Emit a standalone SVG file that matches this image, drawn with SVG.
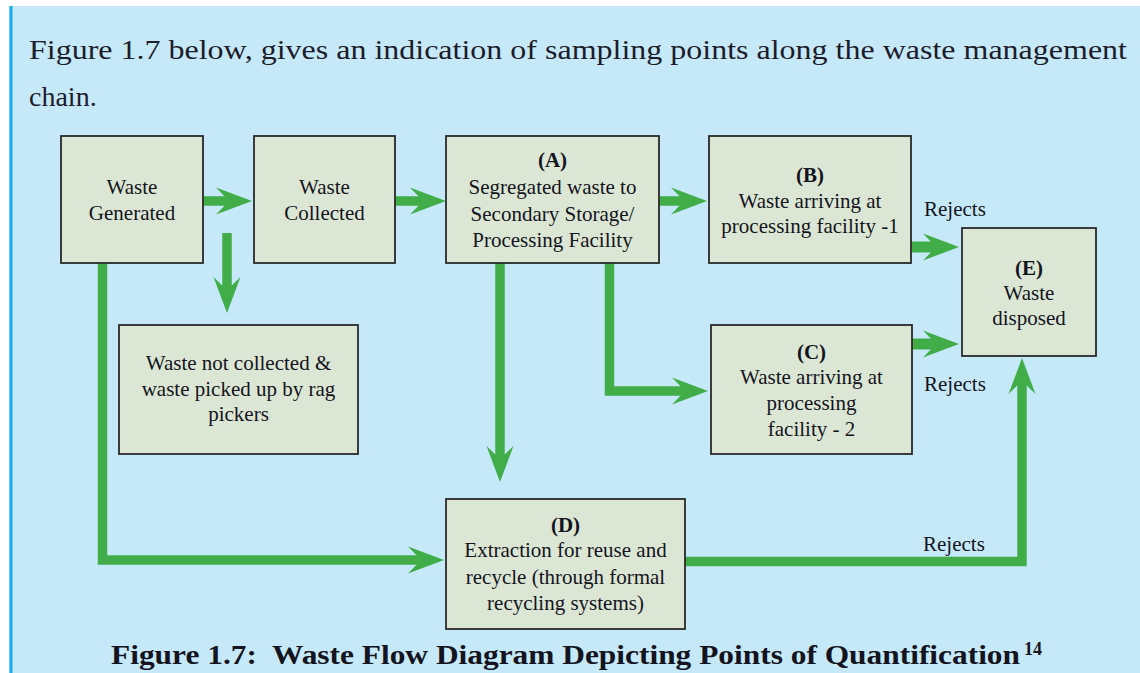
<svg xmlns="http://www.w3.org/2000/svg" width="1140" height="673" viewBox="0 0 1140 673">
  <style>
    .box { fill: #dbe7d4; stroke: #2a2a2a; stroke-width: 1.8; }
    .lbl { font-family: "Liberation Serif", "Times New Roman", serif; font-size: 21px; fill: #141420; text-anchor: middle; }
    .tag { font-weight: bold; }
    .note { font-family: "Liberation Serif", "Times New Roman", serif; font-size: 21px; fill: #141420; }
    .flow { fill: none; stroke: #41ad49; stroke-width: 9.5; stroke-linejoin: miter; stroke-linecap: butt; marker-end: url(#head); }
    .flow.wide { stroke-width: 11; }
    .body { font-family: "Liberation Serif", "Times New Roman", serif; font-size: 28px; fill: #1c1c2a; }
    .cap { font-family: "Liberation Serif", "Times New Roman", serif; font-size: 28px; font-weight: bold; fill: #141420; }
    .sup { font-family: "Liberation Serif", "Times New Roman", serif; font-size: 18px; font-weight: bold; fill: #141420; }
  </style>
  <defs>
    <!-- barbed arrowhead; reference point sits in the notch so the shaft tucks inside -->
    <marker id="head" markerUnits="userSpaceOnUse" markerWidth="40" markerHeight="30" refX="13" refY="15" orient="auto" overflow="visible">
      <path d="M0,1.5 L36,15 L0,28.5 L13,15 Z" fill="#41ad49"/>
    </marker>
  </defs>

  <!-- page background -->
  <rect x="0" y="0" width="1140" height="673" fill="#ffffff"/>
  <rect x="9" y="6" width="1131" height="667" fill="#c6e9f9"/>
  <rect x="9.5" y="6" width="3" height="667" fill="#1aaef0"/>

  <!-- introductory sentence -->
  <text class="body" x="29" y="59" textLength="1098" lengthAdjust="spacingAndGlyphs">Figure 1.7 below, gives an indication of sampling points along the waste management</text>
  <text class="body" x="29" y="106">chain.</text>

  <!-- connectors -->
  <g id="connectors">
    <path class="flow" d="M203,201 H229"/>
    <path class="flow" d="M395,201 H423"/>
    <path class="flow" d="M659,201 H684"/>
    <path class="flow" d="M227,233 V290"/>
    <path class="flow" d="M102.5,263 V560 H421"/>
    <path class="flow" d="M500,263 V459"/>
    <path class="flow" d="M609.5,263 V391 H685"/>
    <path class="flow wide" d="M911,247 H936"/>
    <path class="flow wide" d="M912,344 H936"/>
    <path class="flow" d="M685,561.5 H1022 V381"/>
    <text class="note" x="924" y="216">Rejects</text>
    <text class="note" x="924" y="391">Rejects</text>
    <text class="note" x="923" y="551">Rejects</text>
  </g>

  <!-- nodes -->
  <g id="waste-generated">
    <rect class="box" x="61" y="136" width="142" height="127"/>
    <text class="lbl" x="132" y="194">Waste</text>
    <text class="lbl" x="132" y="220">Generated</text>
  </g>
  <g id="waste-collected">
    <rect class="box" x="254" y="136" width="141" height="127"/>
    <text class="lbl" x="324.5" y="194">Waste</text>
    <text class="lbl" x="324.5" y="220">Collected</text>
  </g>
  <g id="node-a">
    <rect class="box" x="446" y="136" width="213" height="127"/>
    <text class="lbl tag" x="552.5" y="167">(A)</text>
    <text class="lbl" x="552.5" y="194">Segregated waste to</text>
    <text class="lbl" x="552.5" y="220.5">Secondary Storage/</text>
    <text class="lbl" x="552.5" y="247">Processing Facility</text>
  </g>
  <g id="node-b">
    <rect class="box" x="709" y="136" width="202" height="127"/>
    <text class="lbl tag" x="810" y="182">(B)</text>
    <text class="lbl" x="810" y="208">Waste arriving at</text>
    <text class="lbl" x="810" y="233">processing facility -1</text>
  </g>
  <g id="node-e">
    <rect class="box" x="962" y="228" width="134" height="128"/>
    <text class="lbl tag" x="1029" y="275">(E)</text>
    <text class="lbl" x="1029" y="300">Waste</text>
    <text class="lbl" x="1029" y="325">disposed</text>
  </g>
  <g id="not-collected">
    <rect class="box" x="119" y="325" width="239" height="129"/>
    <text class="lbl" x="238.5" y="370">Waste not collected &amp;</text>
    <text class="lbl" x="238.5" y="396">waste picked up by rag</text>
    <text class="lbl" x="238.5" y="421">pickers</text>
  </g>
  <g id="node-c">
    <rect class="box" x="711" y="325" width="201" height="129"/>
    <text class="lbl tag" x="811.5" y="359">(C)</text>
    <text class="lbl" x="811.5" y="384">Waste arriving at</text>
    <text class="lbl" x="811.5" y="410">processing</text>
    <text class="lbl" x="811.5" y="436">facility - 2</text>
  </g>
  <g id="node-d">
    <rect class="box" x="446" y="499" width="239" height="130"/>
    <text class="lbl tag" x="565.5" y="532">(D)</text>
    <text class="lbl" x="565.5" y="557">Extraction for reuse and</text>
    <text class="lbl" x="565.5" y="584">recycle (through formal</text>
    <text class="lbl" x="565.5" y="610">recycling systems)</text>
  </g>

  <!-- caption -->
  <text class="cap" x="111" y="664" textLength="909" lengthAdjust="spacingAndGlyphs" xml:space="preserve">Figure 1.7:  Waste Flow Diagram Depicting Points of Quantification</text>
  <text class="sup" x="1024" y="655">14</text>
</svg>
